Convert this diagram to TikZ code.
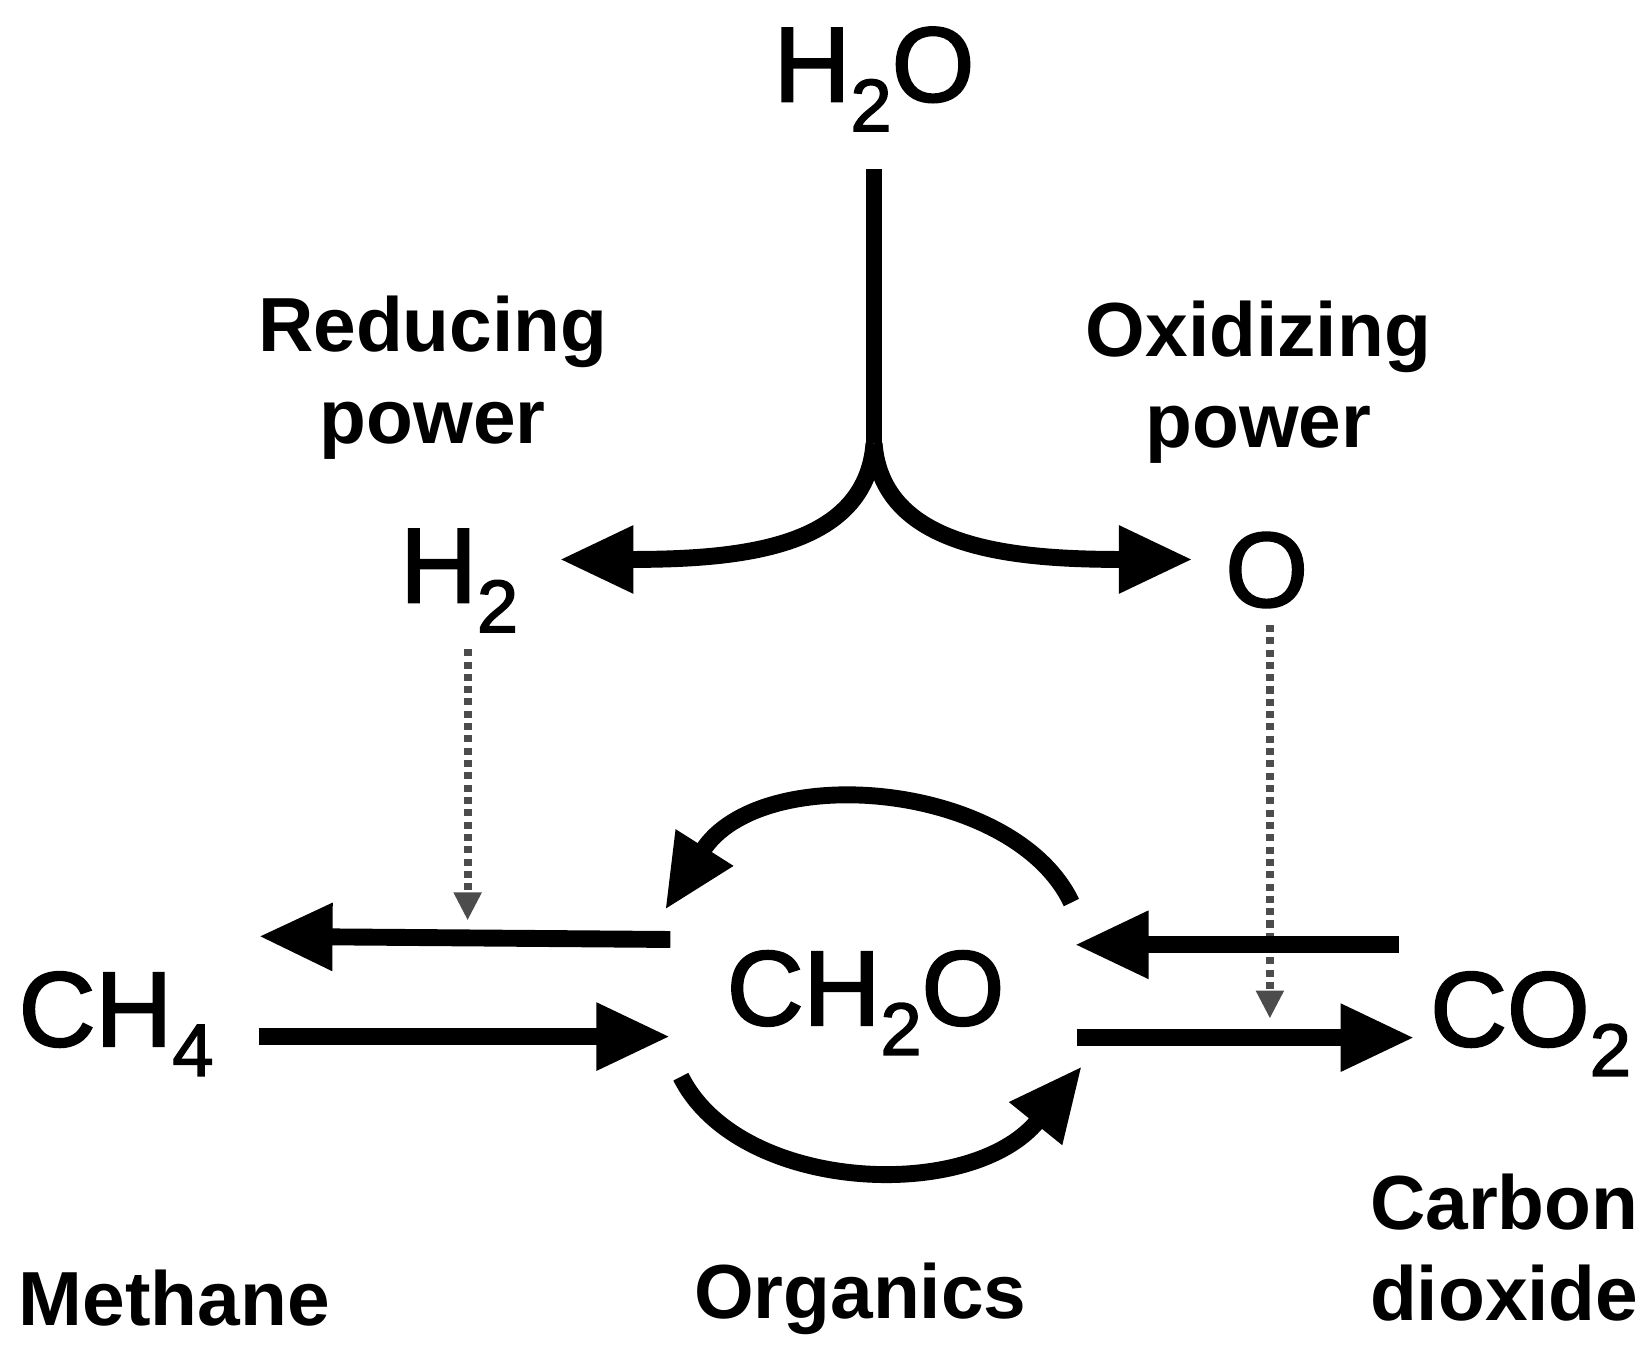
\documentclass[tikz,border=0pt]{standalone}
\usepackage{fontspec}
\setmainfont{Liberation Sans}
\newfontfamily\formfont[FakeBold=2]{Liberation Sans}
\usetikzlibrary{arrows.meta}
\newcommand{\sbs}[1]{\raisebox{-0.28em}{\fontsize{60}{60}\selectfont #1}}
\begin{document}
\begin{tikzpicture}[x=0.03cm,y=-0.03cm,
  fat/.style={line width=0.48cm,-{Triangle[length=2.1cm,width=1.8cm]}},
  dots/.style={line width=0.22cm,gray!60!black,dash pattern=on 0.2cm off 0.15cm,-{Triangle[length=0.8cm,width=0.75cm]}},
  formula/.style={font=\formfont\fontsize{86}{86}\selectfont},
  lbl/.style={font=\bfseries\fontsize{62}{74}\selectfont,align=center}]
\useasboundingbox (0,0) rectangle (1565,1290);
\node[formula] (h2o) at (828,75) {H\sbs{2}O};
\node[formula] (h2) at (435,550) {H\sbs{2}};
\node[formula] (o) at (1200,540) {O};
\node[formula] (ch4) at (110,970) {CH\sbs{4}};
\node[formula] (ch2o) at (820,950) {CH\sbs{2}O};
\node[formula] (co2) at (1450,970) {CO\sbs{2}};
\node[lbl] (red) at (410,358) {Reducing\\power};
\node[lbl] (ox) at (1192,362) {Oxidizing\\power};
\node[lbl] (meth) at (165,1230) {Methane};
\node[lbl] (org) at (815,1230) {Organics};
\node[lbl] (cd) at (1425,1182) {Carbon\\dioxide};
\coordinate (j) at (828,420);
\draw[line width=0.48cm] (828,160) -- (j);
\draw[fat] (j) .. controls (820,520) and (700,530) .. (530,530);
\draw[fat] (j) .. controls (836,520) and (960,530) .. (1130,530);
\draw[dots] (443,615) -- (443,872);
\draw[dots] (1203,592) -- (1203,965);
\draw[fat] (635,890) -- (245,887);
\draw[fat] (245,982) -- (635,982);
\draw[fat] (1325,895) -- (1018,895);
\draw[fat] (1020,983) -- (1340,983);
\draw[fat] (1015,855) .. controls (960,740) and (720,720) .. (630,862);
\draw[fat] (645,1020) .. controls (700,1130) and (920,1140) .. (1025,1010);
\end{tikzpicture}
\end{document}
